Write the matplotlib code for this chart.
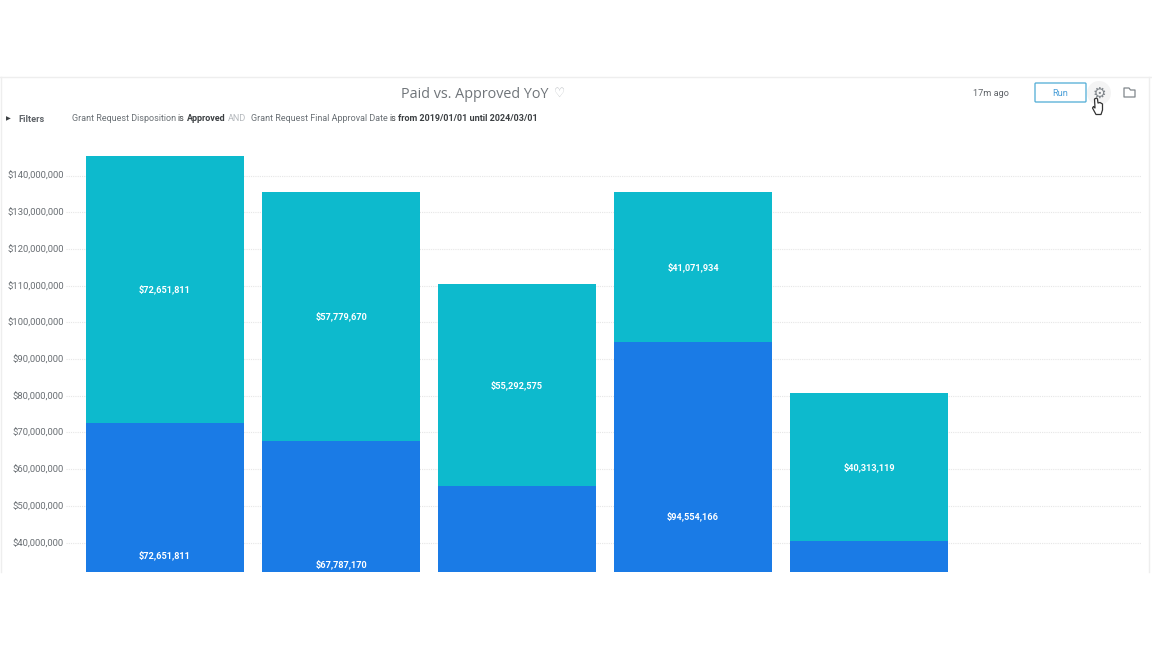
import matplotlib
matplotlib.use("Agg")
import matplotlib.pyplot as plt
from matplotlib.patches import Rectangle, FancyBboxPatch, Circle, Polygon

W, H = 1152, 648
categories = [0, 1, 2, 3, 4]
paid = [72651811, 67787170, 55292575, 94554166, 40313119]
approved = [72651811, 67779670, 55292575, 41071934, 40313119]
paid_labels = ["$72,651,811", "$67,787,170", "", "$94,554,166", ""]
approved_labels = ["$72,651,811", "$57,779,670", "$55,292,575", "$41,071,934", "$40,313,119"]
yticks = [40, 50, 60, 70, 80, 90, 100, 110, 120, 130, 140]

plt.rcParams['font.family'] = ['Roboto', 'DejaVu Sans']
fig = plt.figure(figsize=(W / 100, H / 100), dpi=100, facecolor='white')

def axes_px(x0, y0, x1, y1, **kw):
    return fig.add_axes([x0 / W, 1 - y1 / H, (x1 - x0) / W, (y1 - y0) / H], **kw)

# page overlay in pixel coordinates
bg = axes_px(0, 0, W, H)
bg.set_xlim(0, W); bg.set_ylim(H, 0); bg.axis('off')
bg.plot([0, W], [77, 77], color='#eeeeee', lw=1)
bg.plot([1, 1], [77, 572], color='#eeeeee', lw=1)
bg.plot([1149, 1149], [77, 572], color='#eeeeee', lw=1)

bg.text(474.5, 94, "Paid vs. Approved YoY", ha='center', va='center', fontsize=10.4, color='#70757a', family=['Open Sans', 'DejaVu Sans'])
bg.text(559.5, 93, "\u2661", ha='center', va='center', fontsize=9, color='#b8bcc0', family='DejaVu Sans')
bg.text(8, 118.5, "\u25B6", ha='center', va='center', fontsize=4.5, color='#3c4043', family='DejaVu Sans')
bg.text(18, 119, "Filters", ha='left', va='center', fontsize=6.6, color='#5f6368', fontweight='bold')

segments = [(72, "Grant Request Disposition", '#6a7075', 'normal'), (177.5, "is", '#3c4043', 'normal'),
            (187, "Approved", '#3c4043', 'bold'), (228, "AND", '#b5b9bd', 'normal'),
            (251, "Grant Request Final Approval Date", '#6a7075', 'normal'), (389, "is", '#3c4043', 'normal'),
            (397.5, "from 2019/01/01 until 2024/03/01", '#3c4043', 'bold')]
for x, s, c, w in segments:
    bg.text(x, 118.5, s, ha='left', va='center', fontsize=6.5, color=c, fontweight=w)

bg.text(991, 93.5, "17m ago", ha='center', va='center', fontsize=6.6, color='#5f6368')
bg.add_patch(FancyBboxPatch((1035, 83), 51, 19, boxstyle='round,pad=0,rounding_size=1', fc='white', ec='#5fb3d9', lw=1))
bg.text(1060, 93, "Run", ha='center', va='center', fontsize=6.6, color='#4a9fd8')
bg.add_patch(Circle((1099, 93), 12, fc='#f4f4f4', ec='none'))
bg.text(1099, 93, "\u2699", ha='center', va='center', fontsize=11, color='#80868b', family='DejaVu Sans')
# folder icon
bg.add_patch(Polygon([(1124, 97), (1124, 88), (1129, 88), (1130.5, 90), (1135, 90), (1135, 97)],
                     closed=True, fc='white', ec='#80868b', lw=0.9, joinstyle='round'))

# chart
ax = axes_px(66, 130, 1141, 572)
ax.patch.set_alpha(0)
ax.set_xlim(-0.5625, 5.545)
ax.set_ylim(32.0e6, 152.4e6)
blue, teal = '#1a7be6', '#0dbacd'
ax.bar(categories, paid, width=0.9, color=blue, zorder=2)
ax.bar(categories, approved, width=0.9, bottom=paid, color=teal, zorder=2)
for i, c in enumerate(categories):
    if paid_labels[i]:
        ax.text(c, paid[i] / 2 if paid[i] / 2 > 45e6 else 36.4e6 - (i == 1) * 2.45e6, paid_labels[i], ha='center', va='center',
                fontsize=6.6, color='white', fontweight='bold', zorder=3)
    ax.text(c, paid[i] + approved[i] / 2, approved_labels[i], ha='center', va='center',
            fontsize=6.6, color='white', fontweight='bold', zorder=3)
ax.set_yticks([v * 1e6 for v in yticks])
ax.set_yticklabels([f"${v},000,000" for v in yticks], fontsize=6.8, color='#6a6f74')
ax.set_xticks([])
ax.tick_params(axis='y', length=0, pad=1.5)
ax.grid(axis='y', color='#e6e6e6', lw=0.8, ls=(0, (1, 1)), zorder=0)
ax.set_axisbelow(True)
for s in ax.spines.values():
    s.set_visible(False)

# cursor hand
top = axes_px(0, 0, W, H)
top.set_xlim(0, W); top.set_ylim(H, 0); top.axis('off')
top.add_patch(Polygon([(1094.5, 99), (1096.5, 98), (1097.5, 99), (1098, 103), (1100, 102.5), (1102.5, 104),
                       (1102.5, 110), (1101, 114.5), (1096, 114.5), (1092.5, 108), (1093.5, 106.5), (1095, 108)],
                      closed=True, fc='white', ec='#333333', lw=0.9, joinstyle='round'))

fig.savefig("out.png", dpi=100, facecolor='white')
